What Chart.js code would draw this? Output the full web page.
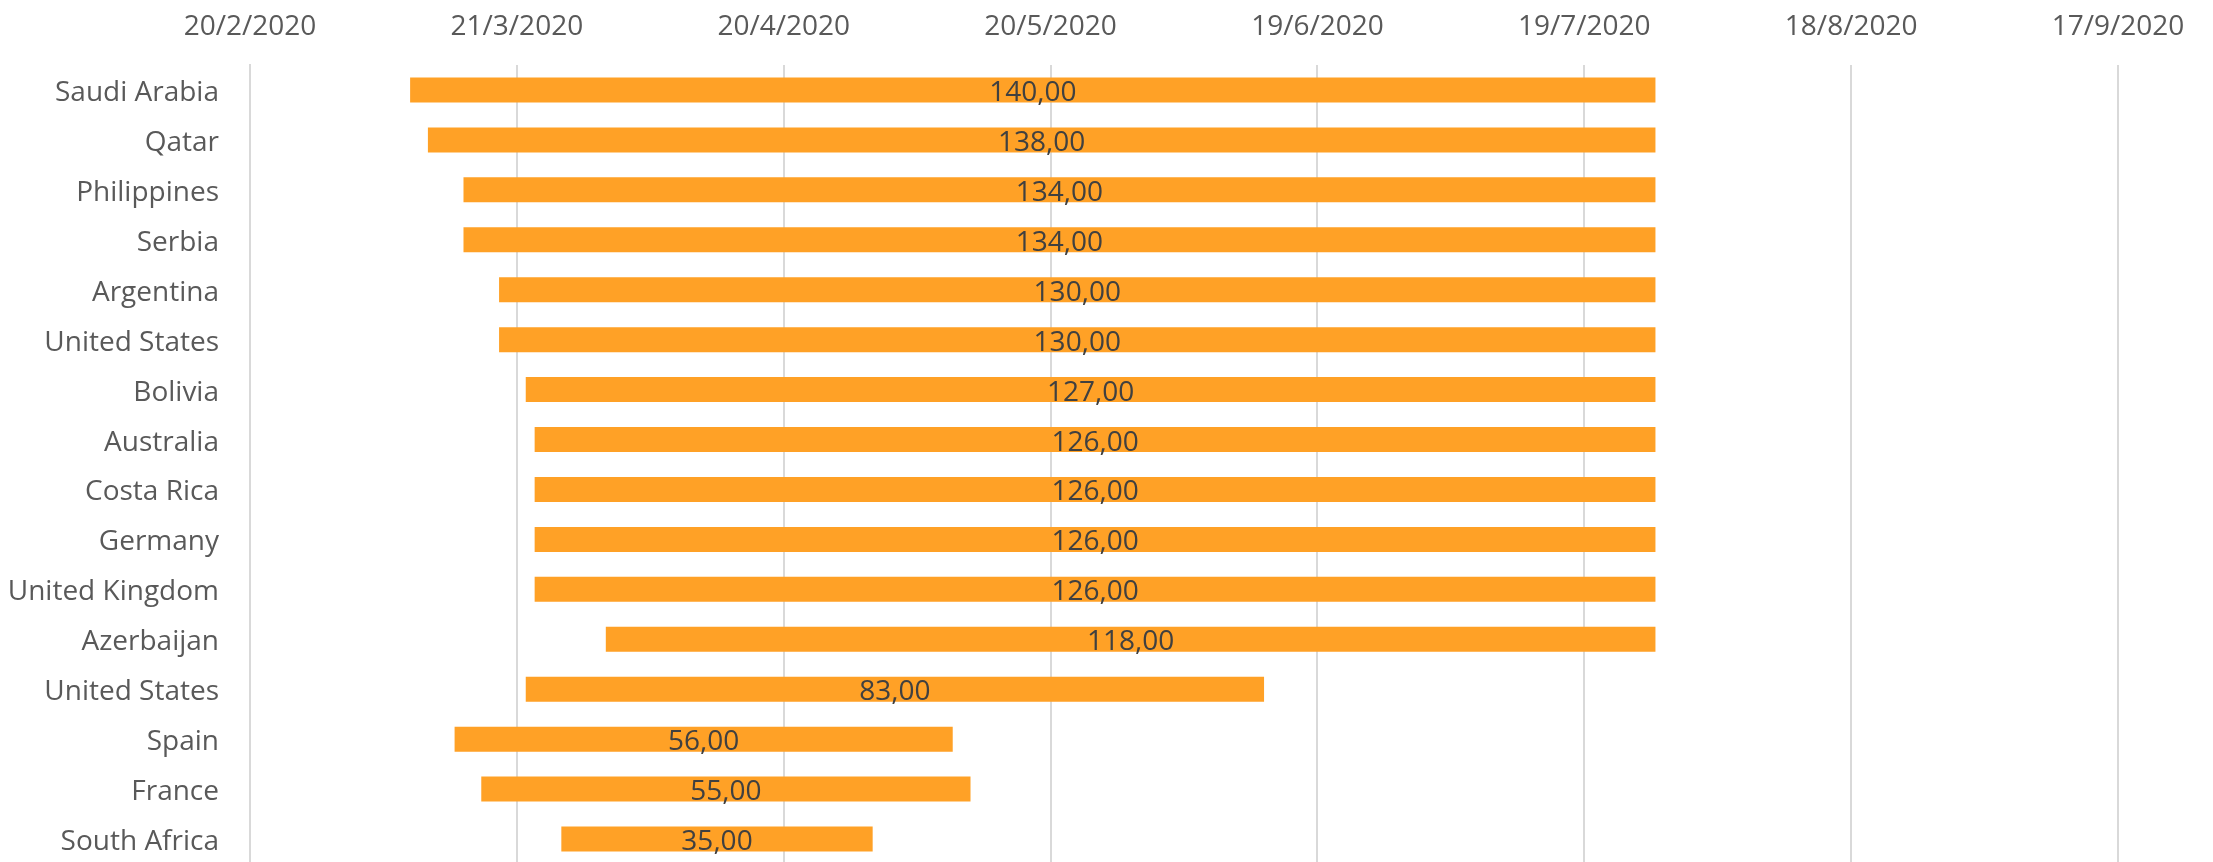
<!DOCTYPE html>
<html>
<head>
<meta charset="utf-8">
<script src="https://cdn.jsdelivr.net/npm/chart.js@4/dist/chart.umd.min.js"></script>
<style>
  html, body { margin: 0; padding: 0; background: #fff; overflow: hidden; }
  #wrap { width: 2213px; height: 864px; }
</style>
</head>
<body>
<div id="wrap"><canvas id="lockdownChart"></canvas></div>
<script>
// lockdown start dates and durations (days)
const countries = ['Saudi Arabia', 'Qatar', 'Philippines', 'Serbia', 'Argentina', 'United States',
    'Bolivia', 'Australia', 'Costa Rica', 'Germany', 'United Kingdom', 'Azerbaijan',
    'United States', 'Spain', 'France', 'South Africa'];
const startDates = ['2020-03-09', '2020-03-11', '2020-03-15', '2020-03-15', '2020-03-19', '2020-03-19',
    '2020-03-22', '2020-03-23', '2020-03-23', '2020-03-23', '2020-03-23', '2020-03-31',
    '2020-03-22', '2020-03-14', '2020-03-17', '2020-03-26'];
const durations = [140, 138, 134, 134, 130, 130, 127, 126, 126, 126, 126, 118, 83, 56, 55, 35];

// x axis: 20/2/2020 to 17/9/2020, a tick every 30 days
const axisStart = '2020-02-20';
const axisDays = 210;
const tickStep = 30;

function dayNum(s) {
    const p = s.split('-').map(Number);
    return Date.UTC(p[0], p[1] - 1, p[2]) / 86400000;
}
const base = dayNum(axisStart);

function fmtDate(offset) {
    const d = new Date((base + offset) * 86400000);
    return d.getUTCDate() + '/' + (d.getUTCMonth() + 1) + '/' + d.getUTCFullYear();
}

const bars = startDates.map((s, i) => {
    const a = dayNum(s) - base;
    return [a, a + durations[i]];
});

const labelPlugin = {
    id: 'barLabels',
    afterDatasetsDraw(chart) {
        const ctx = chart.ctx;
        const meta = chart.getDatasetMeta(0);
        ctx.save();
        ctx.font = '28px "Open Sans"';
        ctx.fillStyle = '#404040';
        ctx.textAlign = 'center';
        ctx.textBaseline = 'middle';
        meta.data.forEach((bar, i) => {
            const cx = (bar.x + bar.base) / 2;
            ctx.fillText(durations[i].toFixed(2).replace('.', ','), cx, bar.y + 3);
        });
        ctx.restore();
    }
};

const ctx = document.getElementById('lockdownChart').getContext('2d');
new Chart(ctx, {
    type: 'bar',
    data: {
        labels: countries,
        datasets: [{
            data: bars,
            backgroundColor: '#FFA126',
            borderWidth: 0,
            barPercentage: 0.5,
            categoryPercentage: 1.0
        }]
    },
    options: {
        indexAxis: 'y',
        responsive: true,
        maintainAspectRatio: false,
        animation: false,
        layout: {padding: {top: 0, right: 95, bottom: 0, left: 0}},
        plugins: {legend: {display: false}, tooltip: {enabled: false}},
        scales: {
            x: {
                type: 'linear',
                position: 'top',
                min: 0,
                max: axisDays,
                ticks: {
                    stepSize: tickStep,
                    padding: 21,
                    color: '#595959',
                    font: {family: 'Open Sans', size: 28},
                    callback: (v) => fmtDate(v)
                },
                grid: {color: '#d9d9d9', lineWidth: 2, drawTicks: false},
                border: {display: false},
                afterFit: (s) => { s.height = 65; }
            },
            y: {
                ticks: {
                    padding: 31,
                    labelOffset: 3,
                    color: '#595959',
                    font: {family: 'Open Sans', size: 28}
                },
                grid: {display: false, drawTicks: false},
                border: {display: true, color: '#d9d9d9', width: 2},
                afterFit: (s) => {
                    s.width = 250;
                    s.paddingTop = 0;
                    s.paddingBottom = 0;
                }
            }
        }
    },
    plugins: [labelPlugin]
});
</script>
</body>
</html>
